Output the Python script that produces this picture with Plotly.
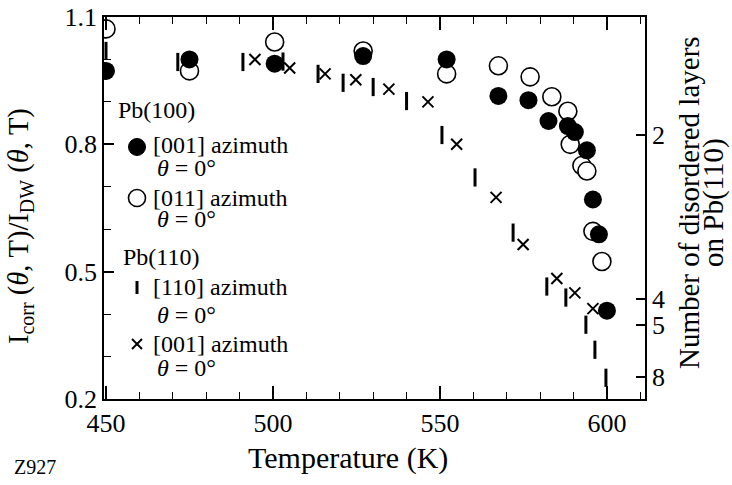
import plotly.graph_objects as go

# ---- data ----
# Pb(100) [001] azimuth (filled circles)
T_100_001 = [450, 475, 500.5, 527, 552, 567.5, 576.5, 582.5, 588.3, 590.4, 594, 595.8, 597.6, 600]
I_100_001 = [0.973, 1.0, 0.99, 1.008, 1.0, 0.914, 0.904, 0.855, 0.843, 0.829, 0.786, 0.67, 0.588, 0.408]
# Pb(100) [011] azimuth (open circles)
T_100_011 = [450, 475, 500.5, 527, 552, 567.5, 577, 583.5, 588.3, 589, 592.5, 594, 595.8, 598.5]
I_100_011 = [1.072, 0.973, 1.041, 1.02, 0.966, 0.985, 0.959, 0.912, 0.878, 0.80, 0.75, 0.737, 0.595, 0.524]
# Pb(110) [110] azimuth (bars)
T_110_110 = [450, 471.5, 491, 503, 513.5, 521, 530, 540, 550.6, 560.5, 571.9, 582, 587.7, 593.7, 596.4, 599.7]
I_110_110 = [1.02, 0.994, 0.994, 0.995, 0.966, 0.945, 0.935, 0.902, 0.822, 0.722, 0.592, 0.465, 0.439, 0.375, 0.316, 0.25]
# Pb(110) [001] azimuth (crosses)
T_110_001 = [494.6, 505, 515.6, 524.8, 534.7, 546.4, 555, 566.8, 574.9, 585, 590.4, 595.8]
I_110_001 = [1.0, 0.98, 0.966, 0.952, 0.93, 0.9, 0.80, 0.675, 0.564, 0.484, 0.45, 0.413]

x_ticks = [450, 500, 550, 600]
y_ticks = [0.2, 0.5, 0.8, 1.1]
y_ticklabels = ["0.2", "0.5", "0.8", "1.1"]
layers_pos = [0.823, 0.436, 0.375, 0.252]
layers_labels = ["2", "4", "5", "8"]

FONT = "Liberation Serif"
W, H = 732, 485
ML, MR, MT, MB = 104, 87, 17, 86
PW, PH = W - ML - MR, H - MT - MB


def px(x):
    return (x - ML) / PW


def py(y):
    return (H - MB - y) / PH


fig = go.Figure()
fig.add_trace(go.Scatter(x=T_100_011, y=I_100_011, mode="markers", name="[011]",
                         marker=dict(symbol="circle", size=18, color="white",
                                     line=dict(color="black", width=1.6))))
fig.add_trace(go.Scatter(x=T_100_001, y=I_100_001, mode="markers", name="[001]",
                         marker=dict(symbol="circle", size=18, color="black",
                                     line=dict(color="black", width=0))))
fig.add_trace(go.Scatter(x=T_110_110, y=I_110_110, mode="markers", name="[110]",
                         marker=dict(symbol="line-ns", size=13,
                                     line=dict(color="black", width=3))))
fig.add_trace(go.Scatter(x=T_110_001, y=I_110_001, mode="markers", name="[001] 110",
                         marker=dict(symbol="x-thin", size=11,
                                     line=dict(color="black", width=2))))
# invisible trace to activate right axis
fig.add_trace(go.Scatter(x=[T_100_001[0]], y=[I_100_001[0]], yaxis="y2", mode="markers",
                         marker=dict(opacity=0), hoverinfo="skip", showlegend=False))

fig.update_layout(
    width=W, height=H,
    margin=dict(l=ML, r=MR, t=MT, b=MB, pad=0, autoexpand=False),
    paper_bgcolor="white", plot_bgcolor="white",
    showlegend=False,
    font=dict(family=FONT, size=26, color="black"),
    xaxis=dict(range=[449.4, 611.4], tickvals=x_ticks, ticks="inside", ticklen=13,
               tickwidth=1.5, tickcolor="black", showline=True, linecolor="black",
               linewidth=1.8, mirror="ticks", showgrid=False, zeroline=False,
               automargin=False,
               minor=dict(dtick=10, tick0=450, ticks="inside", ticklen=7, tickwidth=1.3,
                          tickcolor="black", showgrid=False),
               tickfont=dict(family=FONT, size=26)),
    yaxis=dict(range=[0.2, 1.1], tickvals=y_ticks, ticktext=y_ticklabels, ticks="inside",
               ticklen=10, tickwidth=1.5, tickcolor="black", showline=True,
               linecolor="black", linewidth=1.8, mirror=False, showgrid=False,
               zeroline=False, automargin=False,
               minor=dict(dtick=0.1, tick0=0.2, ticks="inside", ticklen=7, tickwidth=1.3,
                          tickcolor="black", showgrid=False),
               tickfont=dict(family=FONT, size=26)),
    yaxis2=dict(range=[0.2, 1.1], overlaying="y", side="right", tickvals=layers_pos,
                ticktext=layers_labels, ticks="inside", ticklen=9, tickwidth=1.5,
                tickcolor="black", showline=True, linecolor="black", linewidth=1.8,
                showgrid=False, zeroline=False, automargin=False,
                tickfont=dict(family=FONT, size=26)),
)

ann = []


def txt(x, y, s, size=24, anchor="left", angle=0):
    ann.append(dict(x=px(x), y=py(y), xref="paper", yref="paper", text=s,
                    showarrow=False, xanchor=anchor, yanchor="middle", textangle=angle,
                    font=dict(family=FONT, size=size, color="black")))


theta = "<i>θ</i> = 0°"
LS = 24
txt(116, 110, "Pb(100)", size=LS)
txt(151, 145, "[001] azimuth", size=LS)
txt(155, 168, theta, size=LS)
txt(151, 198, "[011] azimuth", size=LS)
txt(155, 219, theta, size=LS)
txt(121, 257, "Pb(110)", size=LS)
txt(151, 287, "[110] azimuth", size=LS)
txt(155, 315, theta, size=LS)
txt(151, 344, "[001] azimuth", size=LS)
txt(155, 368, theta, size=LS)

txt(348, 458, "Temperature (K)", size=30, anchor="center")
txt(20, 226, "I<sub>corr</sub> (<i>θ</i>, T)/I<sub>DW</sub> (<i>θ</i>, T)", size=28.5,
    anchor="center", angle=-90)
txt(689, 203, "Number of disordered layers", size=29, anchor="center", angle=-90)
txt(713, 203, "on Pb(110)", size=29, anchor="center", angle=-90)
txt(12, 467, "Z927", size=20)
fig.update_layout(annotations=ann)

# legend keys
shapes = []
r = 8.5
shapes.append(dict(type="circle", xref="paper", yref="paper", x0=px(137 - r), x1=px(137 + r),
                   y0=py(147 + r), y1=py(147 - r), fillcolor="black", line=dict(color="black", width=1)))
shapes.append(dict(type="circle", xref="paper", yref="paper", x0=px(137 - r), x1=px(137 + r),
                   y0=py(198 + r), y1=py(198 - r), fillcolor="white", line=dict(color="black", width=1.6)))
shapes.append(dict(type="line", xref="paper", yref="paper", x0=px(137), x1=px(137),
                   y0=py(281), y1=py(294), line=dict(color="black", width=3)))
shapes.append(dict(type="line", xref="paper", yref="paper", x0=px(132), x1=px(142),
                   y0=py(339), y1=py(349), line=dict(color="black", width=2)))
shapes.append(dict(type="line", xref="paper", yref="paper", x0=px(132), x1=px(142),
                   y0=py(349), y1=py(339), line=dict(color="black", width=2)))
fig.update_layout(shapes=shapes)

fig.write_html("out.html", config={"displayModeBar": False},
               post_script="document.body.style.margin='0';")
